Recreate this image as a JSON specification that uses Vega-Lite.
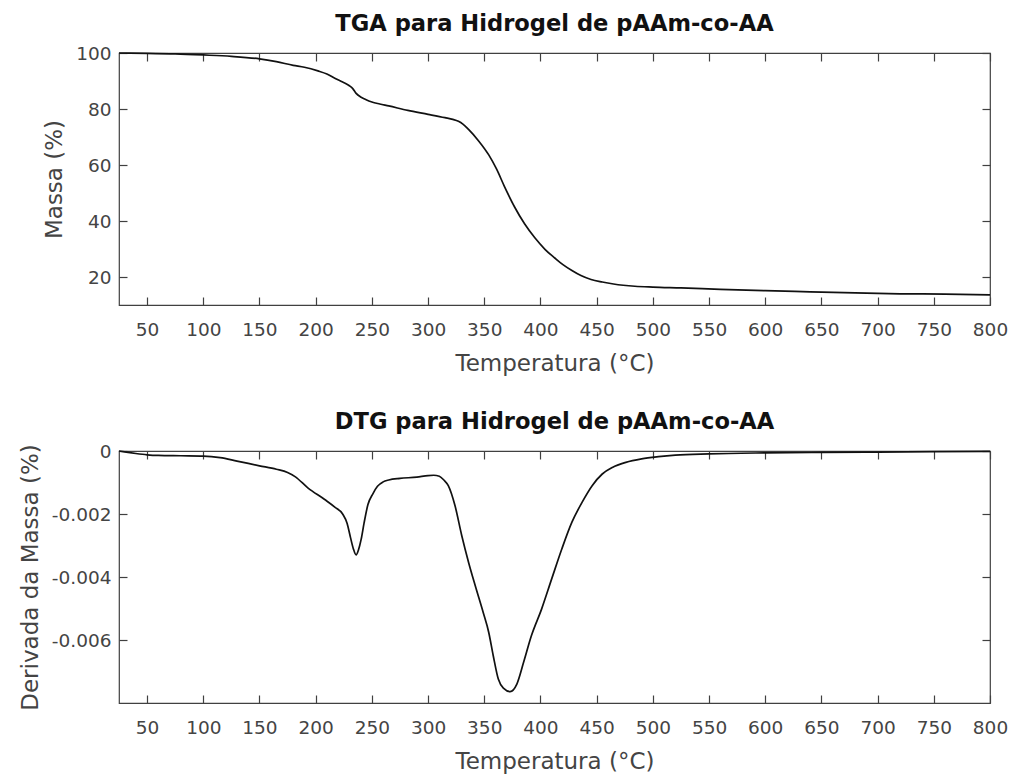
{
  "$schema": "https://vega.github.io/schema/vega-lite/v6.json",
  "background": "white",
  "padding": {"left": 18, "top": 12, "right": 5, "bottom": 0},
  "spacing": 33,
  "datasets": {
    "tga": [
      {"T": 25, "M": 100}, {"T": 50, "M": 99.9}, {"T": 75, "M": 99.7}, {"T": 100, "M": 99.3},
      {"T": 125, "M": 98.8}, {"T": 150, "M": 97.9}, {"T": 165, "M": 96.9}, {"T": 180, "M": 95.6},
      {"T": 190, "M": 94.9}, {"T": 202, "M": 93.6}, {"T": 210, "M": 92.5}, {"T": 217, "M": 91.0},
      {"T": 224, "M": 89.6}, {"T": 230, "M": 88.3}, {"T": 233, "M": 87.3}, {"T": 236, "M": 85.6},
      {"T": 240, "M": 84.3}, {"T": 244, "M": 83.5}, {"T": 250, "M": 82.5}, {"T": 257, "M": 81.8},
      {"T": 265, "M": 81.1}, {"T": 282, "M": 79.5}, {"T": 300, "M": 78.1}, {"T": 315, "M": 76.9},
      {"T": 322, "M": 76.3}, {"T": 327, "M": 75.6}, {"T": 331, "M": 74.6}, {"T": 336, "M": 72.7},
      {"T": 345, "M": 68.6}, {"T": 354, "M": 63.6}, {"T": 361, "M": 58.5}, {"T": 368, "M": 52.3},
      {"T": 377, "M": 45.0}, {"T": 386, "M": 38.9}, {"T": 395, "M": 34.0}, {"T": 404, "M": 29.9},
      {"T": 413, "M": 26.7}, {"T": 420, "M": 24.4}, {"T": 428, "M": 22.3}, {"T": 436, "M": 20.5},
      {"T": 445, "M": 19.1}, {"T": 455, "M": 18.2}, {"T": 465, "M": 17.5}, {"T": 484, "M": 16.7},
      {"T": 500, "M": 16.4}, {"T": 525, "M": 16.1}, {"T": 560, "M": 15.6}, {"T": 600, "M": 15.1},
      {"T": 640, "M": 14.7}, {"T": 680, "M": 14.3}, {"T": 720, "M": 14.0}, {"T": 760, "M": 13.9},
      {"T": 800, "M": 13.6}
    ],
    "dtg": [
      {"T": 25, "D": 0.0}, {"T": 30, "D": -0.00003}, {"T": 40, "D": -0.00008}, {"T": 50, "D": -0.00012},
      {"T": 60, "D": -0.00014}, {"T": 80, "D": -0.00015}, {"T": 100, "D": -0.00016}, {"T": 115, "D": -0.00021},
      {"T": 130, "D": -0.00032}, {"T": 150, "D": -0.00047}, {"T": 165, "D": -0.00058}, {"T": 175, "D": -0.00068},
      {"T": 182, "D": -0.00082}, {"T": 193, "D": -0.00117}, {"T": 208, "D": -0.00154}, {"T": 217, "D": -0.00178},
      {"T": 224, "D": -0.002}, {"T": 228, "D": -0.0023}, {"T": 231, "D": -0.00275}, {"T": 233.5, "D": -0.0031},
      {"T": 236, "D": -0.0033}, {"T": 238, "D": -0.00315}, {"T": 240.5, "D": -0.0028}, {"T": 243, "D": -0.0023},
      {"T": 246.5, "D": -0.0017}, {"T": 251, "D": -0.00135}, {"T": 255, "D": -0.00112}, {"T": 260, "D": -0.00098},
      {"T": 265, "D": -0.00092}, {"T": 275, "D": -0.00087}, {"T": 290, "D": -0.00083}, {"T": 300, "D": -0.00078},
      {"T": 305, "D": -0.00077}, {"T": 310, "D": -0.0008}, {"T": 314, "D": -0.00092}, {"T": 318, "D": -0.0011},
      {"T": 324, "D": -0.00174}, {"T": 330, "D": -0.00269}, {"T": 336, "D": -0.00353}, {"T": 342, "D": -0.00428},
      {"T": 349, "D": -0.00512}, {"T": 354, "D": -0.00576}, {"T": 358, "D": -0.0065}, {"T": 362.5, "D": -0.00724},
      {"T": 367, "D": -0.00753}, {"T": 373, "D": -0.00764}, {"T": 379, "D": -0.0074}, {"T": 385, "D": -0.00671},
      {"T": 392, "D": -0.00586}, {"T": 401, "D": -0.00502}, {"T": 410, "D": -0.00406}, {"T": 419, "D": -0.00311},
      {"T": 428, "D": -0.00226}, {"T": 437, "D": -0.00163}, {"T": 446, "D": -0.0011}, {"T": 455, "D": -0.00073},
      {"T": 464, "D": -0.00052}, {"T": 476, "D": -0.00036}, {"T": 490, "D": -0.00025}, {"T": 505, "D": -0.00018},
      {"T": 520, "D": -0.00013}, {"T": 550, "D": -0.00009}, {"T": 600, "D": -0.00006}, {"T": 650, "D": -0.000045},
      {"T": 700, "D": -0.000035}, {"T": 750, "D": -0.00002}, {"T": 800, "D": -0.00001}
    ]
  },
  "vconcat": [
    {
      "width": 871,
      "height": 252,
      "title": {"text": "TGA para Hidrogel de pAAm-co-AA"},
      "data": {"name": "tga"},
      "layer": [
        {
          "mark": {"type": "line", "color": "#111111", "strokeWidth": 1.7, "interpolate": "monotone"},
          "encoding": {
            "x": {"field": "T", "type": "quantitative", "scale": {"domain": [25, 800], "nice": false, "zero": false},
                  "axis": {"values": [50, 100, 150, 200, 250, 300, 350, 400, 450, 500, 550, 600, 650, 700, 750, 800], "title": "Temperatura (°C)", "labelPadding": 15, "titlePadding": 14}},
            "y": {"field": "M", "type": "quantitative", "scale": {"domain": [10, 100], "nice": false, "zero": false},
                  "axis": {"values": [20, 40, 60, 80, 100], "title": "Massa (%)", "labelPadding": 8, "titlePadding": 9}}
          }
        },
        {
          "mark": {"type": "line", "opacity": 0},
          "encoding": {
            "x": {"field": "T", "type": "quantitative", "axis": {"orient": "top", "labels": false, "title": null, "values": [50, 100, 150, 200, 250, 300, 350, 400, 450, 500, 550, 600, 650, 700, 750, 800]}},
            "y": {"field": "M", "type": "quantitative", "axis": {"orient": "right", "labels": false, "title": null, "values": [20, 40, 60, 80, 100]}}
          }
        }
      ],
      "resolve": {"axis": {"x": "independent", "y": "independent"}}
    },
    {
      "width": 871,
      "height": 252,
      "title": {"text": "DTG para Hidrogel de pAAm-co-AA"},
      "data": {"name": "dtg"},
      "layer": [
        {
          "mark": {"type": "line", "color": "#111111", "strokeWidth": 1.7, "interpolate": "monotone"},
          "encoding": {
            "x": {"field": "T", "type": "quantitative", "scale": {"domain": [25, 800], "nice": false, "zero": false},
                  "axis": {"values": [50, 100, 150, 200, 250, 300, 350, 400, 450, 500, 550, 600, 650, 700, 750, 800], "title": "Temperatura (°C)", "labelPadding": 15, "titlePadding": 14}},
            "y": {"field": "D", "type": "quantitative", "scale": {"domain": [-0.008, 0], "nice": false, "zero": false},
                  "axis": {"values": [0, -0.002, -0.004, -0.006], "title": "Derivada da Massa (%)", "labelExpr": "'' + datum.value", "labelPadding": 8, "titlePadding": 9}}
          }
        },
        {
          "mark": {"type": "line", "opacity": 0},
          "encoding": {
            "x": {"field": "T", "type": "quantitative", "axis": {"orient": "top", "labels": false, "title": null, "values": [50, 100, 150, 200, 250, 300, 350, 400, 450, 500, 550, 600, 650, 700, 750, 800]}},
            "y": {"field": "D", "type": "quantitative", "axis": {"orient": "right", "labels": false, "title": null, "values": [0, -0.002, -0.004, -0.006]}}
          }
        }
      ],
      "resolve": {"axis": {"x": "independent", "y": "independent"}}
    }
  ],
  "config": {
    "font": "DejaVu Sans",
    "view": {"stroke": "#404040", "strokeWidth": 1.2},
    "axis": {
      "grid": false,
      "domain": false,
      "offset": -8,
      "tickSize": 8,
      "tickColor": "#404040",
      "tickWidth": 1.2,
      "labelFont": "DejaVu Sans",
      "labelFontSize": 18.5,
      "labelColor": "#444444",
      "labelFlush": false,
      "labelOverlap": false,
      "titleFont": "DejaVu Sans",
      "titleFontSize": 23,
      "titleFontWeight": "normal",
      "titleColor": "#444444"
    },
    "title": {"font": "DejaVu Sans", "fontSize": 22.6, "fontWeight": "bold", "color": "#111111", "offset": 8}
  }
}
